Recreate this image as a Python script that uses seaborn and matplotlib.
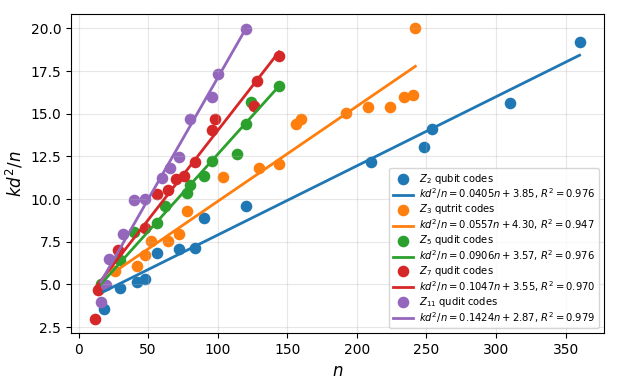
import numpy as np
import pandas as pd
import matplotlib
matplotlib.use("Agg")
import matplotlib.pyplot as plt
import seaborn as sns

# data
labels = [r"$Z_2$ qubit codes", r"$Z_3$ qutrit codes", r"$Z_5$ qudit codes",
          r"$Z_7$ qudit codes", r"$Z_{11}$ qudit codes"]

n_q2 = [18, 30, 42, 48, 56, 72, 84, 90, 120, 210, 248, 254, 310, 360]
y_q2 = [3.55, 4.80, 5.12, 5.33, 6.85, 7.10, 7.14, 8.88, 9.60, 12.20, 13.07, 14.12, 15.61, 19.20]

n_q3 = [26, 42, 48, 52, 64, 72, 78, 104, 130, 144, 156, 160, 192, 208, 224, 234, 240, 242]
y_q3 = [5.78, 6.09, 6.71, 7.53, 7.55, 7.98, 9.29, 11.30, 11.82, 12.03, 14.42, 14.67, 15.02,
        15.38, 15.40, 16.00, 16.12, 20.00]

n_q5 = [16, 30, 40, 56, 62, 78, 80, 90, 96, 114, 120, 124, 144]
y_q5 = [5.00, 6.45, 8.10, 8.62, 9.62, 10.36, 10.81, 11.35, 12.23, 12.66, 14.42, 15.66, 16.64]

n_q7 = [12, 14, 28, 48, 56, 64, 70, 76, 84, 96, 98, 126, 128, 144]
y_q7 = [3.00, 4.66, 7.00, 8.31, 10.28, 10.52, 11.16, 11.35, 12.17, 14.03, 14.67, 15.45, 16.90, 18.38]

n_q11 = [16, 20, 22, 32, 40, 48, 60, 66, 72, 80, 96, 100, 120]
y_q11 = [3.98, 4.96, 6.52, 7.98, 9.97, 10.03, 11.26, 11.85, 12.47, 14.67, 15.98, 17.30, 19.98]

# fit coefficients as printed in the legend
slopes = [0.0405, 0.0557, 0.0906, 0.1047, 0.1424]
intercepts = [3.85, 4.30, 3.57, 3.55, 2.87]
r2 = [0.976, 0.947, 0.976, 0.970, 0.979]

series = [(n_q2, y_q2), (n_q3, y_q3), (n_q5, y_q5), (n_q7, y_q7), (n_q11, y_q11)]
colors = sns.color_palette("tab10", 5)

fig, ax = plt.subplots(figsize=(6.18, 3.86), dpi=100)
fig.subplots_adjust(left=0.115, right=0.977, top=0.964, bottom=0.137)

for i, (n, y) in enumerate(series):
    df = pd.DataFrame({"n": n, "y": y})
    sns.scatterplot(data=df, x="n", y="y", ax=ax, color=colors[i], s=70,
                    linewidth=0, label=labels[i])
    xs = np.array([min(n), max(n)])
    fit = pd.DataFrame({"n": xs, "y": slopes[i] * xs + intercepts[i]})
    sns.lineplot(data=fit, x="n", y="y", ax=ax, color=colors[i], linewidth=2,
                 label=r"$kd^2/n = %.4fn + %.2f$, $R^2 = %.3f$" % (slopes[i], intercepts[i], r2[i]))

ax.set_xlabel(r"$n$", fontsize=12)
ax.set_ylabel(r"$kd^2/n$", fontsize=12)
ax.grid(True, alpha=0.3)
ax.legend(loc="lower right", fontsize=7.2, labelspacing=0.1, borderpad=0.35,
          handletextpad=0.6)

fig.savefig("out.png", dpi=100)
